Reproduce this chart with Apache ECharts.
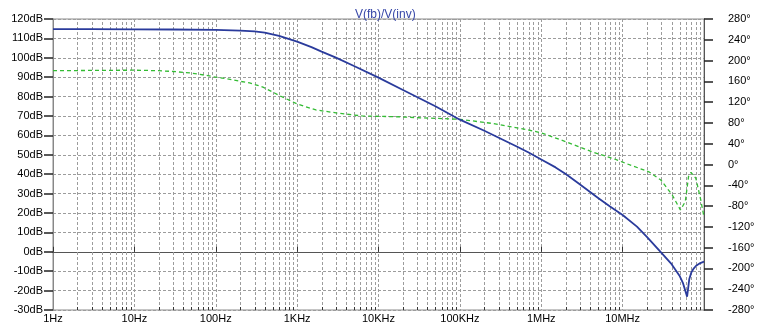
<!DOCTYPE html>
<html><head><meta charset="utf-8">
<script src="https://cdn.jsdelivr.net/npm/echarts@6/dist/echarts.min.js"></script>
<style>html,body{margin:0;padding:0;background:#fff}#c{width:765px;height:335px}</style>
</head><body><div id="c"></div>
<script>
const chartTitle = 'V(fb)/V(inv)';
const freqTickLabels = {1:'1Hz',10:'10Hz',100:'100Hz',1000:'1KHz',10000:'10KHz',100000:'100KHz',1000000:'1MHz',10000000:'10MHz'};

const magFreq = [1, 3, 10, 30, 100, 200, 300, 400, 600, 1000, 1500, 2000, 3000, 5000, 10000, 20000, 50000, 100000, 200000, 500000, 700000, 1e6, 1.5e6, 2e6, 3e6, 5e6, 7e6, 1e7, 1.5e7, 2e7, 3e7, 4e7, 5e7, 5.5e7, 6.2e7, 6.6e7, 7e7, 7.5e7, 8e7, 9e7, 1e8];
const magDb   = [114.8, 114.8, 114.7, 114.6, 114.4, 114.0, 113.6, 113.0, 111.3, 108.3, 105.5, 103.2, 100.1, 95.8, 89.8, 83.4, 75.0, 68.1, 62.4, 54.3, 51.2, 47.6, 43.5, 40.1, 34.7, 27.7, 23.4, 19.0, 13.0, 7.6, -0.6, -6.4, -12.3, -16.0, -23.1, -14.0, -10.5, -8.5, -7.2, -5.8, -5.1];

const phaseFreq = [1, 3, 10, 20, 30, 50, 80, 100, 150, 200, 260, 380, 600, 1000, 1700, 3300, 6300, 16000, 32000, 100000, 250000, 700000, 1e6, 2e6, 4.3e6, 7.8e6, 1.1e7, 2.1e7, 2.95e7, 4.07e7, 5.13e7, 5.89e7, 6.46e7, 6.92e7, 7.94e7, 9.12e7, 1e8];
const phaseDeg  = [180.5, 181, 181.5, 180.5, 179, 176, 171, 168, 164, 160, 157, 149, 133, 116.5, 105, 98.5, 93.4, 92, 90, 87, 79, 66.4, 61, 44, 24, 11, 2, -14, -29.8, -58.6, -87.5, -71.5, -23, -15, -26.5, -68, -101.5];

const minorFreqs = [];
for (let k = 0; k < 8; k++) for (let m = 2; m <= 9; m++) minorFreqs.push(m * Math.pow(10, k));

const FONT = 'Liberation Sans, Arial, sans-serif';
const gridStroke = '#9c9c9c';
const chart = echarts.init(document.getElementById('c'), null, {renderer: 'canvas'});
chart.setOption({
  animation: false,
  backgroundColor: '#fff',
  title: {text: chartTitle, left: 350, top: 4, textStyle: {fontFamily: FONT, fontSize: 12, fontWeight: 'normal', color: '#3848a8'}},
  grid: {left: 53, right: 61, top: 19, bottom: 25, show: true, borderColor: '#8a8a8a', borderWidth: 1, containLabel: false},
  xAxis: {
    type: 'log', logBase: 10, min: 1, max: 1e8, splitNumber: 8,
    axisLine: {show: true, lineStyle: {color: '#555', width: 1}},
    axisTick: {show: true, inside: true, length: 5, lineStyle: {color: '#333'}},
    axisLabel: {margin: 3, fontFamily: FONT, fontSize: 11, color: '#000', showMaxLabel: false,
      formatter: v => freqTickLabels[Math.round(v)] || ''},
    splitLine: {show: true, lineStyle: {color: gridStroke, type: [3, 2], width: 1}}
  },
  yAxis: [{
    type: 'value', min: -30, max: 120, interval: 10, position: 'left',
    axisLine: {show: true, lineStyle: {color: '#888'}},
    axisTick: {show: true, inside: false, length: 9, lineStyle: {color: '#222', width: 1.5}},
    axisLabel: {margin: 10, fontFamily: FONT, fontSize: 11, color: '#000', formatter: '{value}dB'},
    splitLine: {show: true, lineStyle: {color: gridStroke, type: [3, 2], width: 1}}
  }, {
    type: 'value', min: -280, max: 280, interval: 40, position: 'right',
    axisLine: {show: true, lineStyle: {color: '#555'}},
    axisTick: {show: true, inside: false, length: 9, lineStyle: {color: '#222', width: 1.5}},
    axisLabel: {margin: 24, fontFamily: FONT, fontSize: 11, color: '#000', formatter: '{value}°'},
    splitLine: {show: false}
  }],
  series: [{
    type: 'custom', z: 1, silent: true, yAxisIndex: 0,
    data: minorFreqs.map(f => [f]),
    encode: {x: 0},
    renderItem: (params, api) => {
      const f = api.value(0);
      const p0 = api.coord([f, -30]);
      const p1 = api.coord([f, 120]);
      const x = Math.round(p0[0]) + 0.5;
      return {type: 'group', children: [
        {type: 'line', shape: {x1: x, y1: p0[1], x2: x, y2: p1[1]}, style: {stroke: gridStroke, lineWidth: 1, lineDash: [3, 2]}},
        {type: 'line', shape: {x1: x, y1: p0[1], x2: x, y2: p0[1] - 3}, style: {stroke: '#333', lineWidth: 1}}
      ]};
    }
  }, {
    name: 'phase', type: 'line', yAxisIndex: 1, z: 3, showSymbol: false, smooth: false,
    data: phaseFreq.map((f, i) => [f, phaseDeg[i]]),
    lineStyle: {color: '#33bb33', width: 1.3, type: [4, 3]}
  }, {
    name: 'mag', type: 'line', yAxisIndex: 0, z: 4, showSymbol: false, smooth: false,
    data: magFreq.map((f, i) => [f, magDb[i]]),
    lineStyle: {color: '#2a3b9c', width: 1.8}
  }]
});
</script></body></html>
